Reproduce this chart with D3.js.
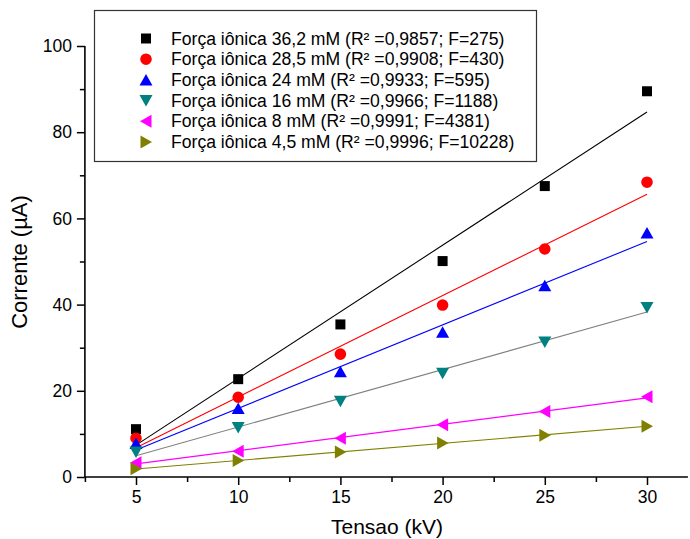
<!DOCTYPE html>
<html><head><meta charset="utf-8">
<script src="https://cdn.jsdelivr.net/npm/d3@7"></script>
<style>
html,body{margin:0;padding:0;background:#fff;}
svg{display:block;font-family:Arial,"Liberation Sans",sans-serif;}
</style></head>
<body><svg id="c" width="690" height="539"></svg>
<script>
const voltages = [5, 10, 15, 20, 25, 30];
const seriesNames = [
  "Força iônica 36,2 mM (R² =0,9857; F=275)",
  "Força iônica 28,5 mM (R² =0,9908; F=430)",
  "Força iônica 24 mM (R² =0,9933; F=595)",
  "Força iônica 16 mM (R² =0,9966; F=1188)",
  "Força iônica 8 mM (R² =0,9991; F=4381)",
  "Força iônica 4,5 mM (R² =0,9996; F=10228)"
];
const s362 = [11.1, 22.7, 35.4, 50.1, 67.5, 89.5];
const s285 = [9.0, 18.5, 28.5, 39.9, 52.9, 68.4];
const s24  = [7.8, 15.9, 24.4, 33.6, 44.4, 56.6];
const s16  = [5.8, 11.5, 17.6, 24.1, 31.3, 39.3];
const s8   = [3.3, 6.0, 9.0, 12.1, 15.2, 18.6];
const s45  = [1.9, 3.8, 5.8, 7.9, 9.7, 11.8];
const seriesValues = [s362, s285, s24, s16, s8, s45];
const markerColors = ["#000000", "#ff0000", "#0000ff", "#008080", "#ff00ff", "#808000"];
const lineColors   = ["#000000", "#ff0000", "#0000ff", "#808080", "#ff00ff", "#808000"];
const markerShapes = ["square", "circle", "up", "down", "left", "right"];
const xTicks = [5, 10, 15, 20, 25, 30];
const yTicks = [0, 20, 40, 60, 80, 100];
const xLabel = "Tensao (kV)";
const yLabel = "Corrente (µA)";

const svg = d3.select("#c");
const x = d3.scaleLinear().domain([5, 30]).range([136, 647]);
const y = d3.scaleLinear().domain([0, 100]).range([477, 46]);
const xMin = 2.5, xMax = 32;

function shapePath(t) {
  if (t === "square") return "M-5,-5H5V5H-5Z";
  if (t === "circle") return "M-5.8,0A5.8,5.8 0 1,0 5.8,0A5.8,5.8 0 1,0 -5.8,0Z";
  if (t === "up") return "M0,-6L6.5,5.5L-6.5,5.5Z";
  if (t === "down") return "M0,6L6.5,-5.5L-6.5,-5.5Z";
  if (t === "left") return "M-6,0L5.5,-6.5L5.5,6.5Z";
  return "M6,0L-5.5,-6.5L-5.5,6.5Z";
}

// Regression lines
seriesValues.forEach((vals, i) => {
  const n = vals.length;
  const mx = d3.mean(voltages), my = d3.mean(vals);
  let sxy = 0, sxx = 0;
  for (let k = 0; k < n; k++) { sxy += (voltages[k]-mx)*(vals[k]-my); sxx += (voltages[k]-mx)**2; }
  const b = sxy / sxx, a = my - b*mx;
  const x0 = d3.min(voltages), x1 = d3.max(voltages);
  svg.append("line")
    .attr("x1", x(x0)).attr("y1", y(a + b*x0))
    .attr("x2", x(x1)).attr("y2", y(a + b*x1))
    .attr("stroke", lineColors[i]).attr("stroke-width", 1.1);
});

// Markers
seriesValues.forEach((vals, i) => {
  svg.append("g").selectAll("path").data(vals).join("path")
    .attr("transform", (d, k) => `translate(${x(voltages[k])},${y(d)})`)
    .attr("d", shapePath(markerShapes[i]))
    .attr("fill", markerColors[i]);
});

// Axes
const xAxisG = svg.append("g").attr("transform", `translate(0,${y(0)})`);
xAxisG.append("line").attr("x1", x(xMin)).attr("x2", x(xMax)).attr("stroke", "#000").attr("stroke-width", 1.6);
xAxisG.call(g => {
  const ax = d3.axisBottom(x).tickValues(xTicks).tickSize(8).tickPadding(6).tickFormat(d3.format("d"));
  const gg = g.append("g").call(ax);
  gg.select(".domain").remove();
  gg.selectAll("line").attr("stroke-width", 1.5);
  gg.selectAll("text").attr("font-size", 17.5).attr("font-family", "Arial, 'Liberation Sans', sans-serif").attr("fill", "#000");
  const minor = d3.range(2.5, 32, 5);
  const mg = g.append("g").call(d3.axisBottom(x).tickValues(minor).tickSize(5).tickFormat(""));
  mg.select(".domain").remove();
  mg.selectAll("line").attr("stroke-width", 1.5);
});

const yAxisG = svg.append("g").attr("transform", `translate(${x(xMin)},0)`);
yAxisG.append("line").attr("y1", y(0)).attr("y2", y(100)).attr("stroke", "#000").attr("stroke-width", 1.6);
yAxisG.call(g => {
  const ax = d3.axisLeft(y).tickValues(yTicks).tickSize(8).tickPadding(5).tickFormat(d3.format("d"));
  const gg = g.append("g").call(ax);
  gg.select(".domain").remove();
  gg.selectAll("line").attr("stroke-width", 1.5);
  gg.selectAll("text").attr("font-size", 17.5).attr("font-family", "Arial, 'Liberation Sans', sans-serif").attr("fill", "#000");
  const minor = d3.range(10, 100, 20);
  const mg = g.append("g").call(d3.axisLeft(y).tickValues(minor).tickSize(5).tickFormat(""));
  mg.select(".domain").remove();
  mg.selectAll("line").attr("stroke-width", 1.5);
});

// Axis titles
svg.append("text").attr("x", 387).attr("y", 534).attr("text-anchor", "middle")
  .attr("font-size", 21).attr("fill", "#000").text(xLabel);
svg.append("text").attr("transform", "translate(27,262) rotate(-90)").attr("text-anchor", "middle")
  .attr("font-size", 22).attr("fill", "#000").text(yLabel);

// Legend
const lg = svg.append("g");
lg.append("rect").attr("x", 94.5).attr("y", 10.5).attr("width", 442).attr("height", 151)
  .attr("fill", "#fff").attr("stroke", "#333").attr("stroke-width", 1.2);
seriesNames.forEach((name, i) => {
  const cy = 38.5 + i*20.7;
  lg.append("path").attr("transform", `translate(146,${cy})`).attr("d", shapePath(markerShapes[i])).attr("fill", markerColors[i]);
  lg.append("text").attr("x", 171).attr("y", cy + 6).attr("font-size", 17.6).attr("fill", "#000").text(name);
});
</script></body></html>
